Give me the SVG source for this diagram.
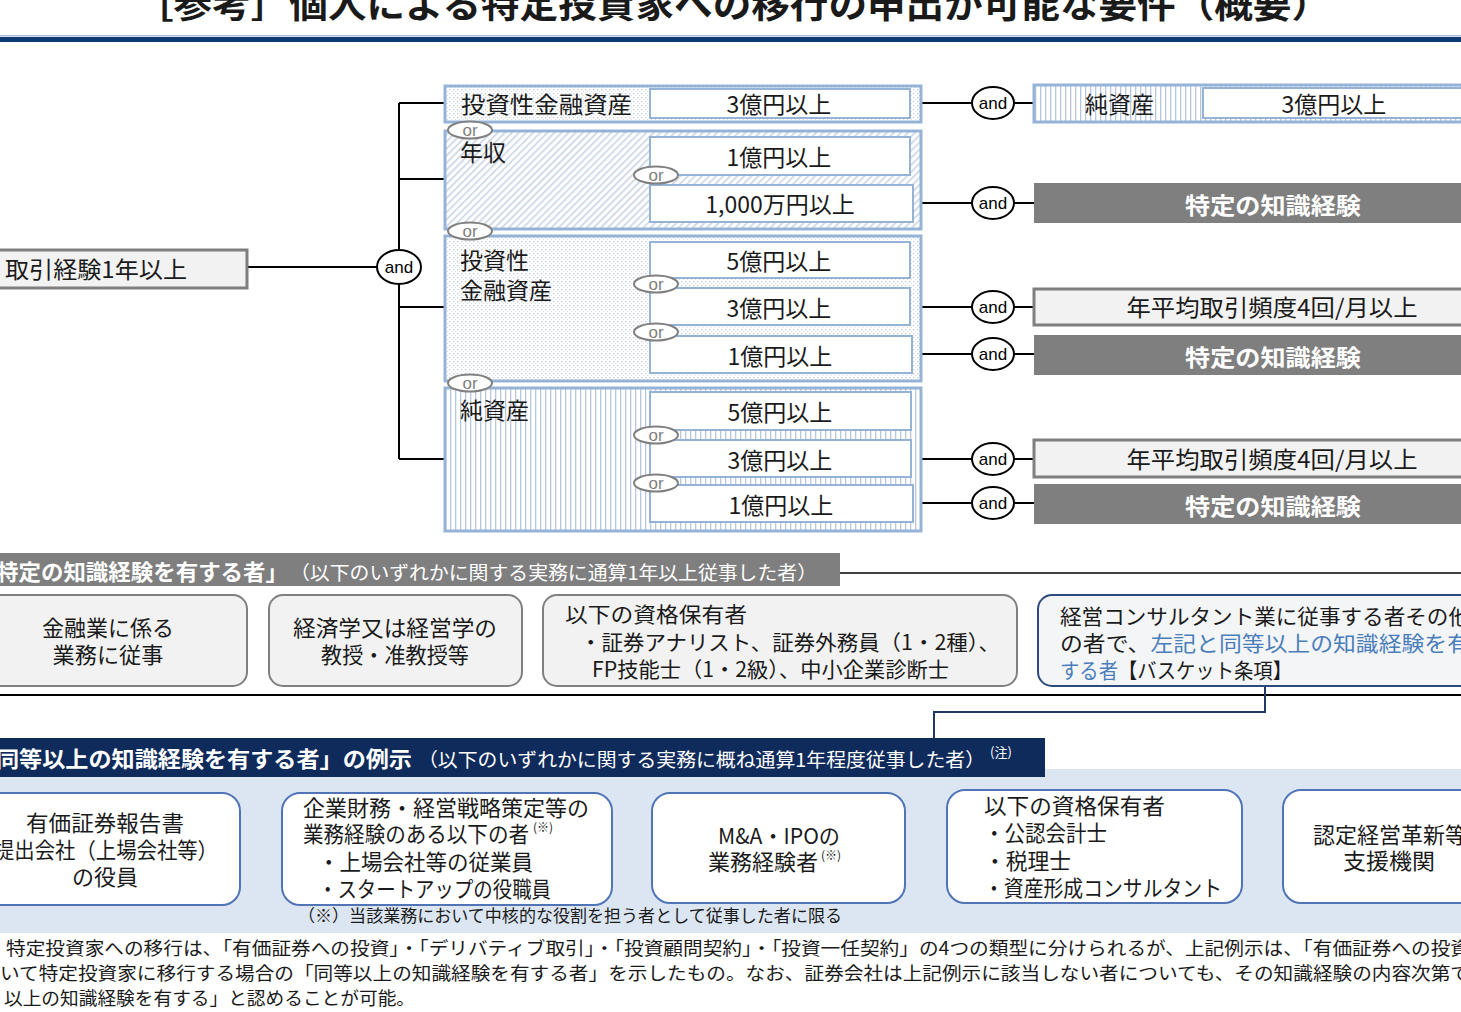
<svg xmlns="http://www.w3.org/2000/svg" width="1461" height="1012" viewBox="0 0 1461 1012">
<defs>
<pattern id="dots" width="4" height="4" patternUnits="userSpaceOnUse"><rect width="4" height="4" fill="#fff"/><rect x="1" y="1" width="1.3" height="1.3" fill="#c3cedc"/><rect x="3" y="3" width="1" height="1" fill="#d5dde8"/></pattern>
<pattern id="diag" width="5" height="5" patternUnits="userSpaceOnUse" patternTransform="rotate(45)"><rect width="5" height="5" fill="#fff"/><rect x="0" y="0" width="1.6" height="5" fill="#c9d4e4"/></pattern>
<pattern id="vlines" width="5" height="5" patternUnits="userSpaceOnUse"><rect width="5" height="5" fill="#fff"/><rect x="0" y="0" width="1.3" height="5" fill="#b7c7de"/></pattern>
</defs>
<style>
text{font-family:"Noto Sans CJK JP","Noto Sans",sans-serif;fill:#1a1a1a}
.t23{font-size:23px}
.t22{font-size:22px}
.t21{font-size:21px}
.c{text-anchor:middle}
.outer{stroke:#95b3d7;stroke-width:3}
.inner{fill:#fff;stroke:#95b3d7;stroke-width:2}
.orE{fill:#fff;stroke:#808080;stroke-width:2}
.orT{font-family:"Liberation Sans",Arial,sans-serif;font-size:17px;fill:#808080;text-anchor:middle}
.andE{fill:#fff;stroke:#000;stroke-width:2}
.andT{font-family:"Liberation Sans",Arial,sans-serif;font-size:17px;fill:#000;text-anchor:middle}
.ln{stroke:#000;stroke-width:2;fill:none}
.dark{fill:#7f7f7f}
.darkT{font-size:23px;font-weight:bold;fill:#fff;text-anchor:middle}
.gbox{fill:#f2f2f2;stroke:#7f7f7f;stroke-width:3}
.rbox{fill:#f2f2f2;stroke:#808080;stroke-width:2}
.bbox{fill:#fff;stroke:#5074b5;stroke-width:2}
.blue{fill:#4a7ebb}
</style>

<g id="title">
<text x="135" y="18" font-size="36" font-weight="bold" textLength="1195" lengthAdjust="spacingAndGlyphs">［参考］個人による特定投資家への移行の申出が可能な要件（概要）</text>
<rect x="0" y="35" width="1461" height="1.5" fill="#a9bfdc"/>
<rect x="0" y="37" width="1461" height="5" fill="#0e3a73"/>
</g>

<g id="connectors">
<path class="ln" d="M247 267H378M399 103V459M399 103H445M399 179H564M564 158V203M564 158H650M564 203H650M399 307H650M564 258V354M564 258H650M564 354H650M399 459H650M564 408V503M564 408H650M564 503H650"/>
<path class="ln" d="M921 103H972M1014 103H1034M913 203H972M1014 203H1034M910 307H972M1014 307H1034M912 354H972M1014 354H1034M912 459H972M1014 459H1034M913 503H972M1014 503H1034"/>
<path d="M840 573H1461" stroke="#000" stroke-width="1.5"/>
<path d="M0 695H1461" stroke="#000" stroke-width="2"/>
<path d="M1265 686V712H934V738" fill="none" stroke="#1f3864" stroke-width="2"/>
</g>

<g id="node-torihiki">
<rect x="-10" y="250" width="257" height="38" class="gbox"/>
<text x="5" y="278" class="t23" textLength="182" lengthAdjust="spacingAndGlyphs">取引経験1年以上</text>
</g>
<g id="and-main"><ellipse cx="399" cy="267" rx="22" ry="17" class="andE"/><text x="399" y="273" class="andT">and</text></g>

<g id="node-toushi1">
<rect x="445" y="86" width="476" height="36" fill="url(#dots)" class="outer"/>
<text x="461" y="113" class="t23" textLength="171" lengthAdjust="spacingAndGlyphs">投資性金融資産</text>
<rect x="650" y="89" width="260" height="29" class="inner"/>
<text x="779" y="113" class="t23 c">3億円以上</text>
</g>

<g id="node-nenshu">
<rect x="445" y="131" width="476" height="98" fill="url(#diag)" class="outer"/>
<text x="460" y="161" class="t23">年収</text>
<rect x="650" y="137" width="260" height="38" class="inner"/>
<text x="779" y="166" class="t23 c">1億円以上</text>
<rect x="650" y="185" width="263" height="37" class="inner"/>
<text x="780" y="213" class="t23 c">1,000万円以上</text>
</g>

<g id="node-toushi2">
<rect x="445" y="236" width="476" height="145" fill="url(#dots)" class="outer"/>
<text x="460" y="269" class="t23">投資性</text>
<text x="460" y="299" class="t23">金融資産</text>
<rect x="650" y="242" width="260" height="36" class="inner"/>
<text x="779" y="270" class="t23 c">5億円以上</text>
<rect x="650" y="288" width="260" height="37" class="inner"/>
<text x="779" y="317" class="t23 c">3億円以上</text>
<rect x="650" y="336" width="262" height="37" class="inner"/>
<text x="780" y="365" class="t23 c">1億円以上</text>
</g>

<g id="node-junshisan">
<rect x="445" y="388" width="476" height="143" fill="url(#vlines)" class="outer"/>
<text x="460" y="419" class="t23">純資産</text>
<rect x="650" y="392" width="261" height="38" class="inner"/>
<text x="780" y="421" class="t23 c">5億円以上</text>
<rect x="650" y="440" width="261" height="37" class="inner"/>
<text x="780" y="469" class="t23 c">3億円以上</text>
<rect x="650" y="485" width="263" height="37" class="inner"/>
<text x="781" y="514" class="t23 c">1億円以上</text>
</g>

<g id="or-labels">
<ellipse cx="470" cy="130" rx="22" ry="8.5" class="orE"/><text x="470" y="136" class="orT">or</text>
<ellipse cx="656" cy="175" rx="22" ry="8.5" class="orE"/><text x="656" y="181" class="orT">or</text>
<ellipse cx="470" cy="231" rx="22" ry="8.5" class="orE"/><text x="470" y="237" class="orT">or</text>
<ellipse cx="656" cy="284" rx="22" ry="8.5" class="orE"/><text x="656" y="290" class="orT">or</text>
<ellipse cx="656" cy="332" rx="22" ry="8.5" class="orE"/><text x="656" y="338" class="orT">or</text>
<ellipse cx="470" cy="383" rx="22" ry="8.5" class="orE"/><text x="470" y="389" class="orT">or</text>
<ellipse cx="656" cy="435" rx="22" ry="8.5" class="orE"/><text x="656" y="441" class="orT">or</text>
<ellipse cx="656" cy="483" rx="22" ry="8.5" class="orE"/><text x="656" y="489" class="orT">or</text>
</g>

<g id="and-labels">
<ellipse cx="993" cy="103" rx="21" ry="16" class="andE"/><text x="993" y="109" class="andT">and</text>
<ellipse cx="993" cy="203" rx="21" ry="16" class="andE"/><text x="993" y="209" class="andT">and</text>
<ellipse cx="993" cy="307" rx="21" ry="16" class="andE"/><text x="993" y="313" class="andT">and</text>
<ellipse cx="993" cy="354" rx="21" ry="16" class="andE"/><text x="993" y="360" class="andT">and</text>
<ellipse cx="993" cy="459" rx="21" ry="16" class="andE"/><text x="993" y="465" class="andT">and</text>
<ellipse cx="993" cy="503" rx="21" ry="16" class="andE"/><text x="993" y="509" class="andT">and</text>
</g>

<g id="node-right-junshisan">
<rect x="1034" y="85" width="440" height="37" fill="url(#vlines)" class="outer"/>
<text x="1085" y="113" class="t23">純資産</text>
<rect x="1203" y="88" width="270" height="30" class="inner"/>
<text x="1334" y="113" class="t23 c">3億円以上</text>
</g>
<g id="node-chishiki1"><rect x="1034" y="183" width="440" height="40" class="dark"/><text x="1273" y="214" class="darkT" textLength="176" lengthAdjust="spacingAndGlyphs">特定の知識経験</text></g>
<g id="node-hindo1"><rect x="1034" y="289" width="440" height="36" class="gbox"/><text x="1272" y="316" class="t23 c" textLength="291" lengthAdjust="spacingAndGlyphs">年平均取引頻度4回/月以上</text></g>
<g id="node-chishiki2"><rect x="1034" y="335" width="440" height="40" class="dark"/><text x="1273" y="366" class="darkT" textLength="176" lengthAdjust="spacingAndGlyphs">特定の知識経験</text></g>
<g id="node-hindo2"><rect x="1034" y="440" width="440" height="37" class="gbox"/><text x="1272" y="468" class="t23 c" textLength="291" lengthAdjust="spacingAndGlyphs">年平均取引頻度4回/月以上</text></g>
<g id="node-chishiki3"><rect x="1034" y="484" width="440" height="40" class="dark"/><text x="1273" y="515" class="darkT" textLength="176" lengthAdjust="spacingAndGlyphs">特定の知識経験</text></g>

<g id="header-tokutei">
<rect x="-5" y="553" width="845" height="33" fill="#7f7f7f"/>
<text x="-4" y="580" font-size="22" font-weight="bold" textLength="292" lengthAdjust="spacingAndGlyphs" style="fill:#fff">特定の知識経験を有する者」</text>
<text x="290" y="580" font-size="19" textLength="527" lengthAdjust="spacingAndGlyphs" style="fill:#fff">（以下のいずれかに関する実務に通算1年以上従事した者）</text>
</g>

<g id="node-kinyu">
<rect x="-15" y="595" width="262" height="91" rx="14" class="rbox"/>
<text x="108" y="636" class="t22 c" textLength="132" lengthAdjust="spacingAndGlyphs">金融業に係る</text>
<text x="108" y="663" class="t22 c" textLength="111" lengthAdjust="spacingAndGlyphs">業務に従事</text>
</g>
<g id="node-keizai">
<rect x="269" y="595" width="253" height="91" rx="14" class="rbox"/>
<text x="395" y="636" class="t22 c" textLength="204" lengthAdjust="spacingAndGlyphs">経済学又は経営学の</text>
<text x="395" y="663" class="t22 c" textLength="148" lengthAdjust="spacingAndGlyphs">教授・准教授等</text>
</g>
<g id="node-shikaku1">
<rect x="543" y="595" width="474" height="91" rx="14" class="rbox"/>
<text x="565" y="622" class="t21" textLength="182" lengthAdjust="spacingAndGlyphs">以下の資格保有者</text>
<text x="580" y="650" class="t21" textLength="420" lengthAdjust="spacingAndGlyphs">・証券アナリスト、証券外務員（1・2種）、</text>
<text x="592" y="677" class="t21" textLength="357" lengthAdjust="spacingAndGlyphs">FP技能士（1・2級）、中小企業診断士</text>
</g>
<g id="node-basket">
<rect x="1038" y="595" width="440" height="91" rx="14" fill="#f4f5f7" stroke="#2c4a7c" stroke-width="2"/>
<text x="1060" y="624" class="t21" textLength="410" lengthAdjust="spacingAndGlyphs">経営コンサルタント業に従事する者その他</text>
<text x="1060" y="651" class="t21" textLength="410" lengthAdjust="spacingAndGlyphs">の者で、<tspan class="blue">左記と同等以上の知識経験を有</tspan></text>
<text x="1060" y="678" class="t21" textLength="232" lengthAdjust="spacingAndGlyphs"><tspan class="blue">する者</tspan>【バスケット条項】</text>
</g>

<g id="panel">
<rect x="0" y="769" width="1461" height="164" fill="#dce6f2"/>
</g>

<g id="header-doutou">
<rect x="-5" y="738" width="1050" height="39" fill="#0f2b5c"/>
<text x="-4" y="767" font-size="22" font-weight="bold" textLength="416" lengthAdjust="spacingAndGlyphs" style="fill:#fff">同等以上の知識経験を有する者」の例示</text>
<text x="418" y="767" font-size="19" textLength="567" lengthAdjust="spacingAndGlyphs" style="fill:#fff">（以下のいずれかに関する実務に概ね通算1年程度従事した者）</text>
<text x="990" y="757" font-size="13" style="fill:#fff">(注)</text>
</g>

<g id="node-yuho">
<rect x="-20" y="793" width="260" height="112" rx="18" class="bbox"/>
<text x="105" y="831" class="t22 c" textLength="158" lengthAdjust="spacingAndGlyphs">有価証券報告書</text>
<text x="106" y="858" class="t22 c" textLength="224" lengthAdjust="spacingAndGlyphs">提出会社（上場会社等）</text>
<text x="105" y="885" class="t22 c">の役員</text>
</g>
<g id="node-kigyo">
<rect x="282" y="793" width="330" height="112" rx="18" class="bbox"/>
<text x="303" y="816" class="t22" textLength="286" lengthAdjust="spacingAndGlyphs">企業財務・経営戦略策定等の</text>
<text x="303" y="842" class="t22" textLength="226" lengthAdjust="spacingAndGlyphs">業務経験のある以下の者</text>
<text x="533" y="832" font-size="12">(※)</text>
<text x="318" y="870" class="t22" textLength="215" lengthAdjust="spacingAndGlyphs">・上場会社等の従業員</text>
<text x="318" y="897" class="t22" textLength="233" lengthAdjust="spacingAndGlyphs">・スタートアップの役職員</text>
</g>
<g id="node-ma">
<rect x="652" y="793" width="253" height="110" rx="18" class="bbox"/>
<text x="779" y="844" class="t22 c" textLength="122" lengthAdjust="spacingAndGlyphs">M&amp;A・IPOの</text>
<text x="708" y="870" class="t22" textLength="110" lengthAdjust="spacingAndGlyphs">業務経験者</text>
<text x="821" y="860" font-size="12">(※)</text>
</g>
<g id="node-shikaku2">
<rect x="947" y="790" width="295" height="113" rx="18" class="bbox"/>
<text x="984" y="814" class="t22" textLength="181" lengthAdjust="spacingAndGlyphs">以下の資格保有者</text>
<text x="984" y="841" class="t22" textLength="123" lengthAdjust="spacingAndGlyphs">・公認会計士</text>
<text x="984" y="869" class="t22" textLength="87" lengthAdjust="spacingAndGlyphs">・税理士</text>
<text x="984" y="896" class="t22" textLength="238" lengthAdjust="spacingAndGlyphs">・資産形成コンサルタント</text>
</g>
<g id="node-nintei">
<rect x="1283" y="790" width="200" height="113" rx="18" class="bbox"/>
<text x="1390" y="843" class="t22 c">認定経営革新等</text>
<text x="1389" y="869" class="t22 c" textLength="92" lengthAdjust="spacingAndGlyphs">支援機関</text>
</g>
<text x="298" y="922" font-size="17" textLength="544" lengthAdjust="spacingAndGlyphs">（※）当該業務において中核的な役割を担う者として従事した者に限る</text>

<g id="footnote">
<text x="6" y="955" font-size="18" textLength="1464" lengthAdjust="spacingAndGlyphs">特定投資家への移行は、「有価証券への投資」・「デリバティブ取引」・「投資顧問契約」・「投資一任契約」の4つの類型に分けられるが、上記例示は、「有価証券への投資</text>
<text x="0" y="980" font-size="18" textLength="1470" lengthAdjust="spacingAndGlyphs">いて特定投資家に移行する場合の「同等以上の知識経験を有する者」を示したもの。なお、証券会社は上記例示に該当しない者についても、その知識経験の内容次第で</text>
<text x="4" y="1005" font-size="18" textLength="411" lengthAdjust="spacingAndGlyphs">以上の知識経験を有する」と認めることが可能。</text>
</g>
</svg>
